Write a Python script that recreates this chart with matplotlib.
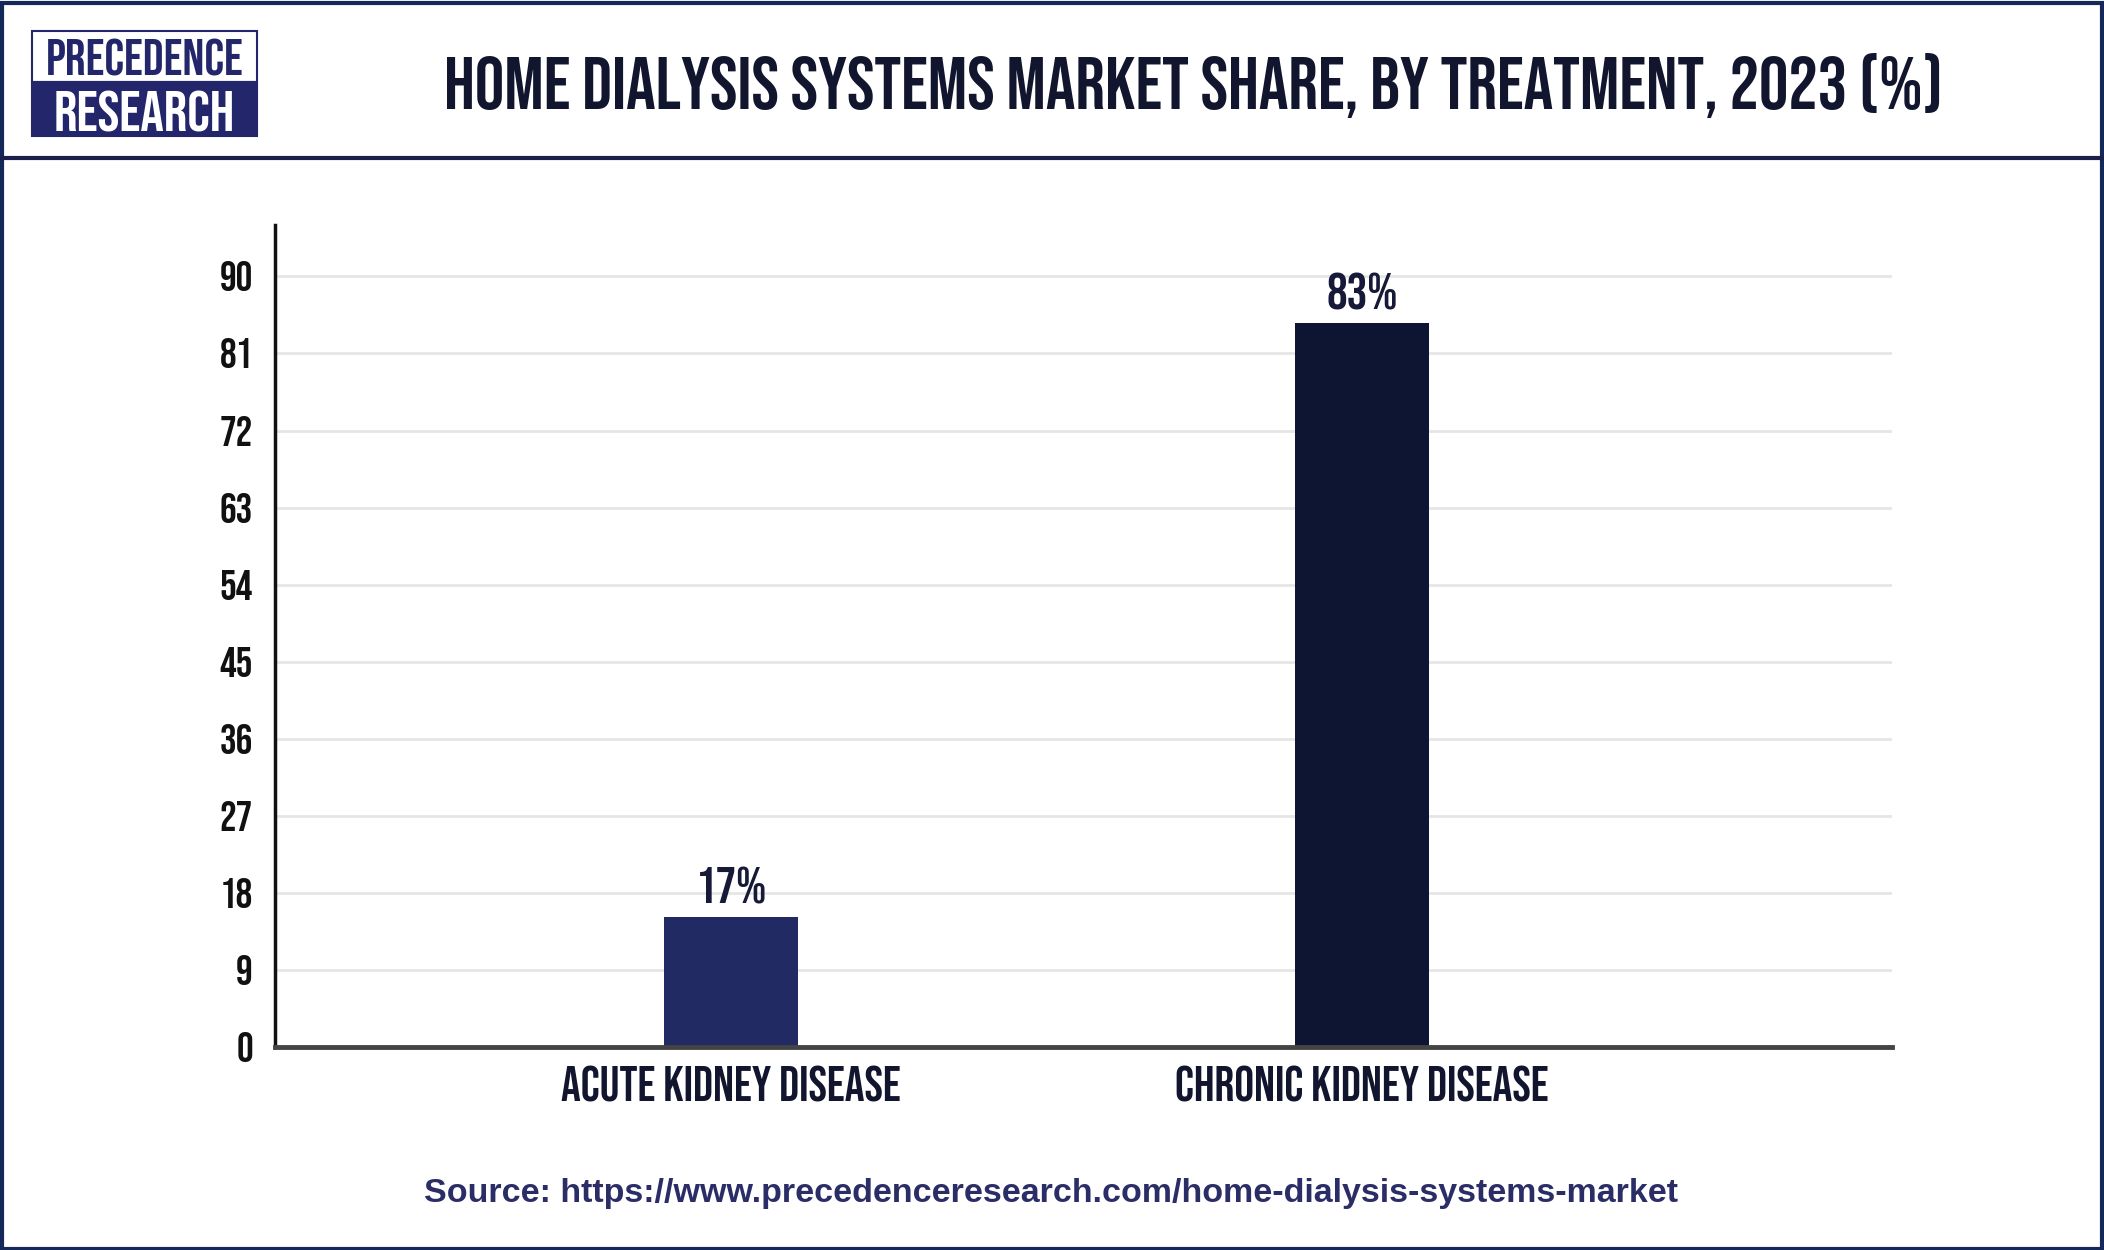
import matplotlib
matplotlib.use('Agg')
import matplotlib.pyplot as plt
from matplotlib.patches import Rectangle

categories = ['ACUTE KIDNEY DISEASE', 'CHRONIC KIDNEY DISEASE']
bar_heights = [15.2, 84.6]          # heights as drawn in the picture
value_labels = ['17%', '83%']
yticks = [0, 9, 18, 27, 36, 45, 54, 63, 72, 81, 90]
bar_colors = ['#222a63', '#0d1533']

title = 'HOME DIALYSIS SYSTEMS MARKET SHARE, BY TREATMENT, 2023 (%)'
source = 'Source: https://www.precedenceresearch.com/home-dialysis-systems-market'

bebas = ['Bebas Neue', 'Oswald', 'DejaVu Sans']
navy = '#1b1f4a'
W, H = 2104, 1250

fig = plt.figure(figsize=(21.04, 12.5), dpi=100)
fig.patch.set_facecolor('white')

# frame and header rule
fig.add_artist(Rectangle((0.001, 0.001), 0.998, 0.997, transform=fig.transFigure,
                         fill=False, edgecolor='#14295a', linewidth=3))
fig.add_artist(plt.Line2D([0, 1], [1 - 158/H]*2, transform=fig.transFigure,
                          color=navy, linewidth=3))

# logo
lx, lw = 32/W, 225/W
fig.add_artist(Rectangle((lx, 1 - 82/H), lw, 51/H, transform=fig.transFigure,
                         facecolor='white', edgecolor='#23266a', linewidth=1.5))
fig.add_artist(Rectangle((lx, 1 - 136/H), lw, 54/H, transform=fig.transFigure,
                         facecolor='#23266a', edgecolor='#23266a', linewidth=1.5))
fig.text(lx + lw/2, 1 - 75/H, 'PRECEDENCE', ha='center', va='baseline',
         fontsize=37, color='#23266a', family=bebas)
fig.text(lx + lw/2, 1 - 131/H, 'RESEARCH', ha='center', va='baseline',
         fontsize=42, color='white', family=bebas)

fig.text(1194/W, 1 - 109/H, title, ha='center', va='baseline',
         fontsize=53, color='#12152e', family=bebas)

ax = fig.add_axes([275/W, 203/H, 1617/W, 822/H])
x = list(range(len(categories)))
ax.bar(x, bar_heights, width=0.212, color=bar_colors, zorder=3)
for xi, h, lab in zip(x, bar_heights, value_labels):
    ax.annotate(lab, (xi, h), xytext=(0, 9.5), textcoords='offset points',
                ha='center', va='baseline', fontsize=37, color='#161a38',
                family=bebas)

ax.set_xlim(-0.723, 1.84)
ax.set_ylim(0, 96)
ax.set_yticks(yticks)
ax.set_yticklabels([str(t) for t in yticks], fontsize=30, family=bebas,
                   color='#111111')
ax.set_xticks(x)
ax.set_xticklabels(categories, fontsize=35.5, family=bebas, color='#12152e')
ax.tick_params(axis='y', length=0, pad=16)
ax.tick_params(axis='x', length=0, pad=14)

ax.grid(axis='y', color='#e6e6e6', linewidth=2, zorder=0)
for sp in ['top', 'right']:
    ax.spines[sp].set_visible(False)
ax.spines['left'].set_linewidth(2.5)
ax.spines['left'].set_color('#111111')
ax.spines['bottom'].set_linewidth(3.5)
ax.spines['bottom'].set_color('#444444')
ax.spines['bottom'].set_zorder(4)

fig.text(1051/W, 1 - 1202/H, source, ha='center', va='baseline',
         fontsize=24.5, fontweight='bold', color='#2b2d66',
         family=['Liberation Sans', 'DejaVu Sans'])

fig.savefig('out.png', dpi=100)
